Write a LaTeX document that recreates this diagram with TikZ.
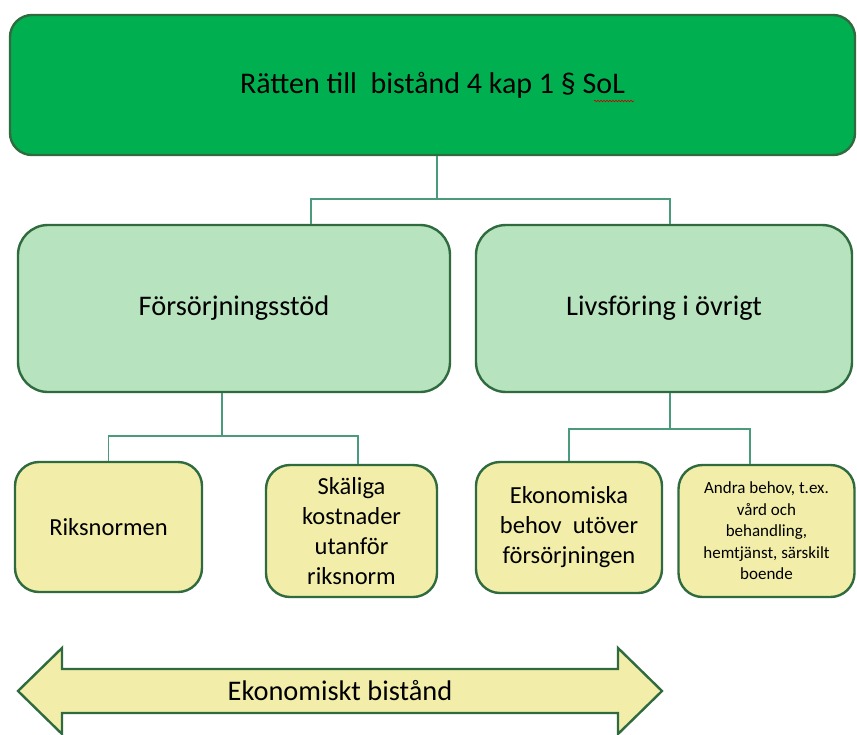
\documentclass[tikz,border=0pt]{standalone}
\usepackage{fontspec}
\setmainfont{Carlito}
\usetikzlibrary{decorations.pathmorphing}

\definecolor{rubrikgron}{HTML}{00B050}
\definecolor{ljusgron}{HTML}{B7E4BE}
\definecolor{ljusgul}{HTML}{F2EEAA}
\definecolor{kantgron}{HTML}{2F6B3E}
\definecolor{linjegron}{HTML}{4A9A7C}

\begin{document}
\begin{tikzpicture}[x=1pt,y=-1pt]
    \tikzstyle{every node}=[font=\fontsize{24.5}{30}\selectfont]
    \tikzstyle{ruta}=[draw=kantgron, line width=2.4pt, align=center, inner sep=2pt]
    \tikzstyle{toppruta}=[ruta, fill=rubrikgron, rounded corners=22pt]
    \tikzstyle{mellanruta}=[ruta, fill=ljusgron, rounded corners=30pt]
    \tikzstyle{underruta}=[ruta, fill=ljusgul, rounded corners=24pt]
    \tikzstyle{gren}=[draw=linjegron, line width=1.5pt]
    \useasboundingbox (0,0) rectangle (857,734);

    \node[toppruta, minimum width=845pt, minimum height=140pt,
        font=\fontsize{30}{36}\selectfont] (ratt) at (432.5,85)
        {\raisebox{-3pt}{Rätten till \ bistånd 4 kap 1 § SoL}};
    \draw[red!80!black, line width=0.6pt, decorate,
        decoration={snake, amplitude=0.8pt, segment length=3pt}]
        (594,101) -- (634,101);

    \node[mellanruta, minimum width=432pt, minimum height=167pt,
        font=\fontsize{28.4}{34}\selectfont] (forsorj) at (234,308.5) {Försörjningsstöd};
    \node[mellanruta, minimum width=376pt, minimum height=167pt,
        font=\fontsize{28.4}{34}\selectfont] (livs) at (664,308.5) {Livsföring i övrigt};

    \node[underruta, minimum width=187pt, minimum height=130pt] (riks) at (108.5,527) {Riksnormen};
    \node[underruta, minimum width=171pt, minimum height=132pt] (skalig) at (351.5,531)
        {Skäliga\\kostnader\\utanför\\riksnorm};
    \node[underruta, minimum width=186pt, minimum height=131pt] (ekon) at (569,527.5)
        {Ekonomiska\\behov \ utöver\\försörjningen};
    \node[underruta, minimum width=176pt, minimum height=132pt,
        font=\fontsize{17}{21.5}\selectfont] (andra) at (766.5,531)
        {Andra behov, t.ex.\\vård och\\behandling,\\hemtjänst, särskilt\\boende};

    % grenar
    \draw[gren] (ratt.south) ++(4.5,0) -- ++(0,43) coordinate (knut1);
    \draw[gren] ([xshift=77pt]forsorj.north) |- (knut1) -| ([xshift=6pt]livs.north);
    \draw[gren] ([xshift=-12pt]forsorj.south) -- ++(0,43) coordinate (knut2);
    \draw[gren] (riks.north) |- (knut2) -| ([xshift=6.5pt]skalig.north);
    \draw[gren] ([xshift=6pt]livs.south) -- ++(0,36) coordinate (knut3);
    \draw[gren] (ekon.north) |- (knut3) -| ([xshift=-16.5pt]andra.north);

    % pilen
    \draw[fill=ljusgul, draw=kantgron, line width=2.4pt, line join=miter]
        (18,691) -- (62,648) -- (62,669) -- (618,669) -- (618,648) -- (662,691)
        -- (618,734) -- (618,713) -- (62,713) -- (62,734) -- cycle;
    \node[font=\fontsize{28.4}{34}\selectfont] (ekbist) at (340,691) {Ekonomiskt bistånd};
\end{tikzpicture}
\end{document}
